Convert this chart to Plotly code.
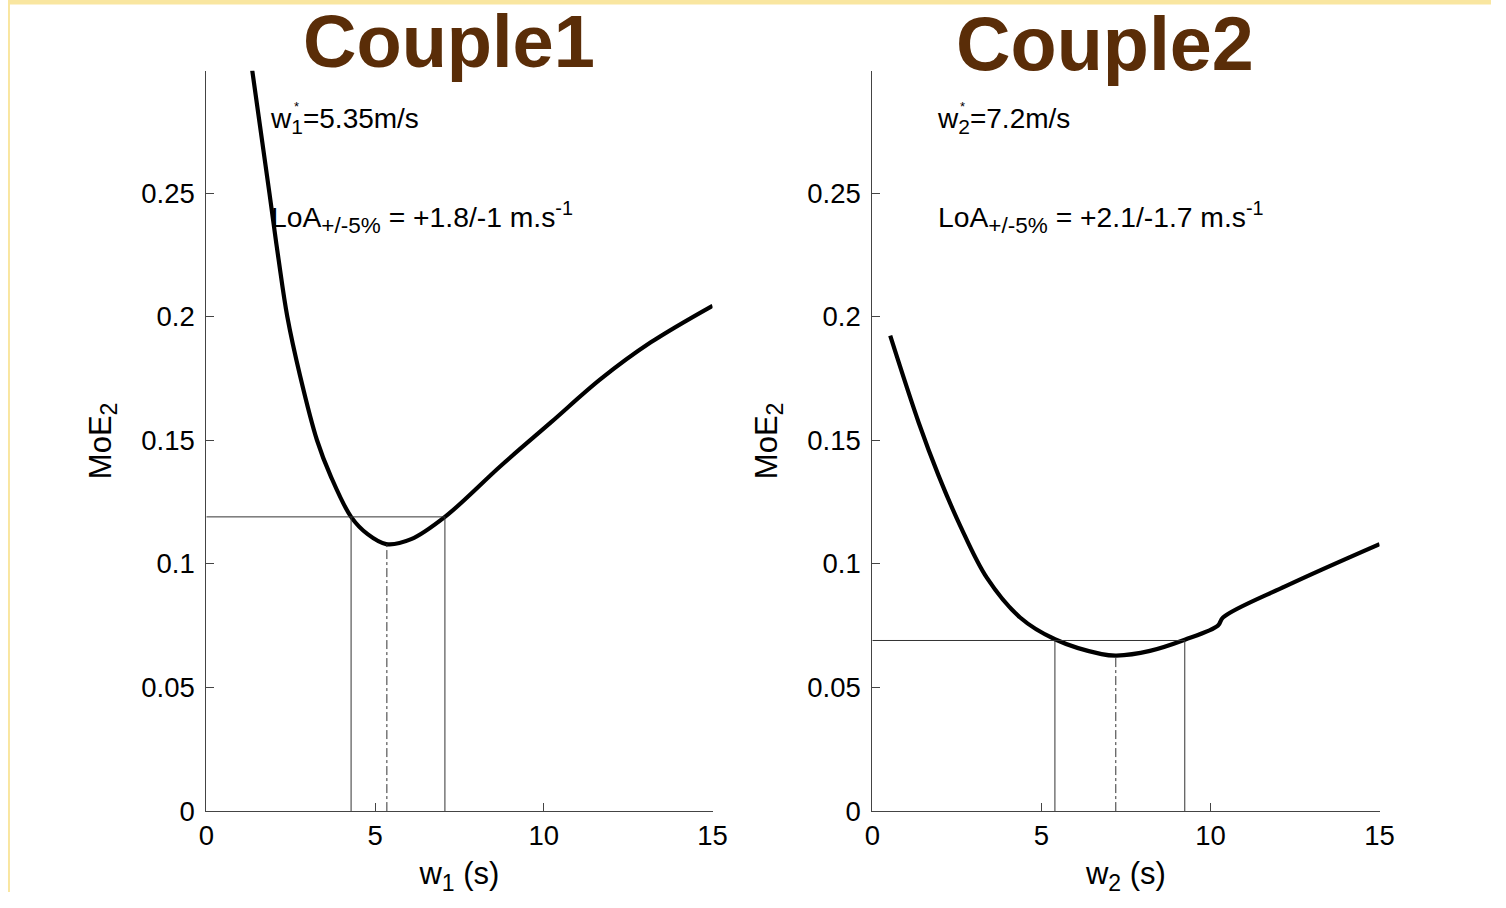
import plotly.graph_objects as go

# ---- data ----
w1 = [1.36, 1.87, 2.14, 2.40, 2.78, 3.28, 3.68, 4.29, 4.78, 5.33, 6.07, 7.07, 8.73, 10.21, 11.69, 13.17, 15.0]
moe1 = [0.2997, 0.250, 0.2233, 0.200, 0.176, 0.150, 0.1357, 0.119, 0.112, 0.108, 0.110, 0.119, 0.1397, 0.1572, 0.1748, 0.1896, 0.2044]

w2 = [0.53, 1.37, 1.96, 2.60, 3.39, 4.37, 5.40, 6.78, 7.22, 8.21, 9.24, 10.22, 10.37, 12.24, 15.0]
moe2 = [0.1923, 0.1572, 0.1357, 0.1154, 0.0943, 0.0783, 0.0695, 0.0635, 0.0629, 0.0648, 0.0693, 0.075, 0.0783, 0.0911, 0.108]

# optimum and limits of agreement (+/-5%)
opt1, lo1, hi1, thr1, min1 = 5.35, 4.29, 7.07, 0.119, 0.108
opt2, lo2, hi2, thr2, min2 = 7.2, 5.40, 9.24, 0.069, 0.0629

titles = ["Couple1", "Couple2"]
xticks = [0, 5, 10, 15]
yticks = [0, 0.05, 0.1, 0.15, 0.2, 0.25]
yticklabels = ["0", "0.05", "0.1", "0.15", "0.2", "0.25"]

FONT = "Liberation Sans, Arial, sans-serif"
W, H = 1506, 908

# the captured picture is slightly shrunk/offset; positions are expressed in target pixels
def X(px):
    return (px - 6.4) / 0.9862 / W

def Y(py):
    return 1 - (py + 0.4) / 0.984 / H

fig = go.Figure()

def add_panel(xs, ys, opt, lo, hi, thr, mn, xa, ya):
    fig.add_trace(go.Scatter(x=xs, y=ys, mode="lines", xaxis=xa, yaxis=ya,
                             line=dict(color="black", width=4.2, shape="spline", smoothing=1.0),
                             showlegend=False, hoverinfo="skip"))
    fig.add_trace(go.Scatter(x=[0, hi], y=[thr, thr], mode="lines", xaxis=xa, yaxis=ya,
                             line=dict(color="#333333", width=1), showlegend=False))
    fig.add_trace(go.Scatter(x=[lo, lo, None, hi, hi], y=[0, thr, None, 0, thr], mode="lines",
                             xaxis=xa, yaxis=ya, line=dict(color="#333333", width=1), showlegend=False))
    fig.add_trace(go.Scatter(x=[opt, opt], y=[0, mn], mode="lines", xaxis=xa, yaxis=ya,
                             line=dict(color="#333333", width=1, dash="dashdot"), showlegend=False))

add_panel(w1, moe1, opt1, lo1, hi1, thr1, min1, "x", "y")
add_panel(w2, moe2, opt2, lo2, hi2, thr2, min2, "x2", "y2")

dom_y = [Y(812), Y(70.4)]
axis_common = dict(showline=True, linecolor="#444444", linewidth=1, ticks="inside", ticklen=8,
                   tickcolor="#444444", showgrid=False, zeroline=False,
                   tickfont=dict(family=FONT, size=27.5, color="black"))

SUB = "<sub><span style='font-size:23px'>{}</span></sub>"

fig.update_layout(
    width=W, height=H, margin=dict(l=0, r=0, t=0, b=0),
    paper_bgcolor="white", plot_bgcolor="white",
    font=dict(family=FONT, color="black"),
    xaxis=dict(domain=[X(205), X(712)], range=[0, 15], tickvals=xticks, anchor="y",
               title=dict(text="w" + SUB.format("1") + " (s)", font=dict(size=31), standoff=12), **axis_common),
    yaxis=dict(domain=dom_y, range=[0, 0.2995], tickvals=yticks, ticktext=yticklabels, anchor="x",
               ticklabelstandoff=5,
               title=dict(text="MoE" + SUB.format("2"), font=dict(size=31), standoff=20), **axis_common),
    xaxis2=dict(domain=[X(872), X(1380)], range=[0, 15], tickvals=xticks, anchor="y2",
                title=dict(text="w" + SUB.format("2") + " (s)", font=dict(size=31), standoff=12), **axis_common),
    yaxis2=dict(domain=dom_y, range=[0, 0.2995], tickvals=yticks, ticktext=yticklabels, anchor="x2",
                ticklabelstandoff=5,
                title=dict(text="MoE" + SUB.format("2"), font=dict(size=31), standoff=20), **axis_common),
)

# yellow frame on left and top
fig.add_shape(type="rect", xref="paper", yref="paper", x0=0, x1=2.0 / W, y0=0, y1=1,
              fillcolor="#F9E6A0", line_width=0, layer="below")
fig.add_shape(type="rect", xref="paper", yref="paper", x0=0, x1=1, y0=1 - 4.5 / H, y1=1,
              fillcolor="#F9E6A0", line_width=0, layer="below")

brown = "#5A2D08"
fig.add_annotation(text="<b>" + titles[0] + "</b>", xref="paper", yref="paper", x=X(448.5), y=Y(41),
                   xanchor="center", yanchor="middle", showarrow=False,
                   font=dict(family=FONT, size=74, color=brown))
fig.add_annotation(text="<b>" + titles[1] + "</b>", xref="paper", yref="paper", x=X(1105), y=Y(44),
                   xanchor="center", yanchor="middle", showarrow=False,
                   font=dict(family=FONT, size=75.5, color=brown))

SUBW = "<sub><span style='font-size:21px'>{}</span></sub>"
SUBL = "<sub><span style='font-size:22.5px'>{}</span></sub>"

def stats(xw, xstar, wlabel, optv, loa):
    fig.add_annotation(text="w" + SUBW.format(wlabel) + "=" + optv + "m/s", xref="paper", yref="paper",
                       x=X(xw), y=Y(120), xanchor="left", yanchor="middle", showarrow=False,
                       font=dict(family=FONT, size=28))
    fig.add_annotation(text="*", xref="paper", yref="paper", x=X(xstar), y=Y(106),
                       xanchor="center", yanchor="middle", showarrow=False, font=dict(family=FONT, size=13))
    fig.add_annotation(text="LoA" + SUBL.format("+/-5%") + " = " + loa + " m.s<sup>-1</sup>",
                       xref="paper", yref="paper",
                       x=X(xw + 1), y=Y(217), xanchor="left", yanchor="middle", showarrow=False,
                       font=dict(family=FONT, size=28.3))

stats(267, 295, "1", "5.35", "+1.8/-1")
stats(935, 962, "2", "7.2", "+2.1/-1.7")

fig.write_html("out.html", config={"displayModeBar": False})
with open("out.html", "r", encoding="utf-8") as f:
    html = f.read()
html = html.replace("<head>", "<head><style>html,body{margin:0;padding:0;background:#ffffff;}</style>", 1)
with open("out.html", "w", encoding="utf-8") as f:
    f.write(html)
